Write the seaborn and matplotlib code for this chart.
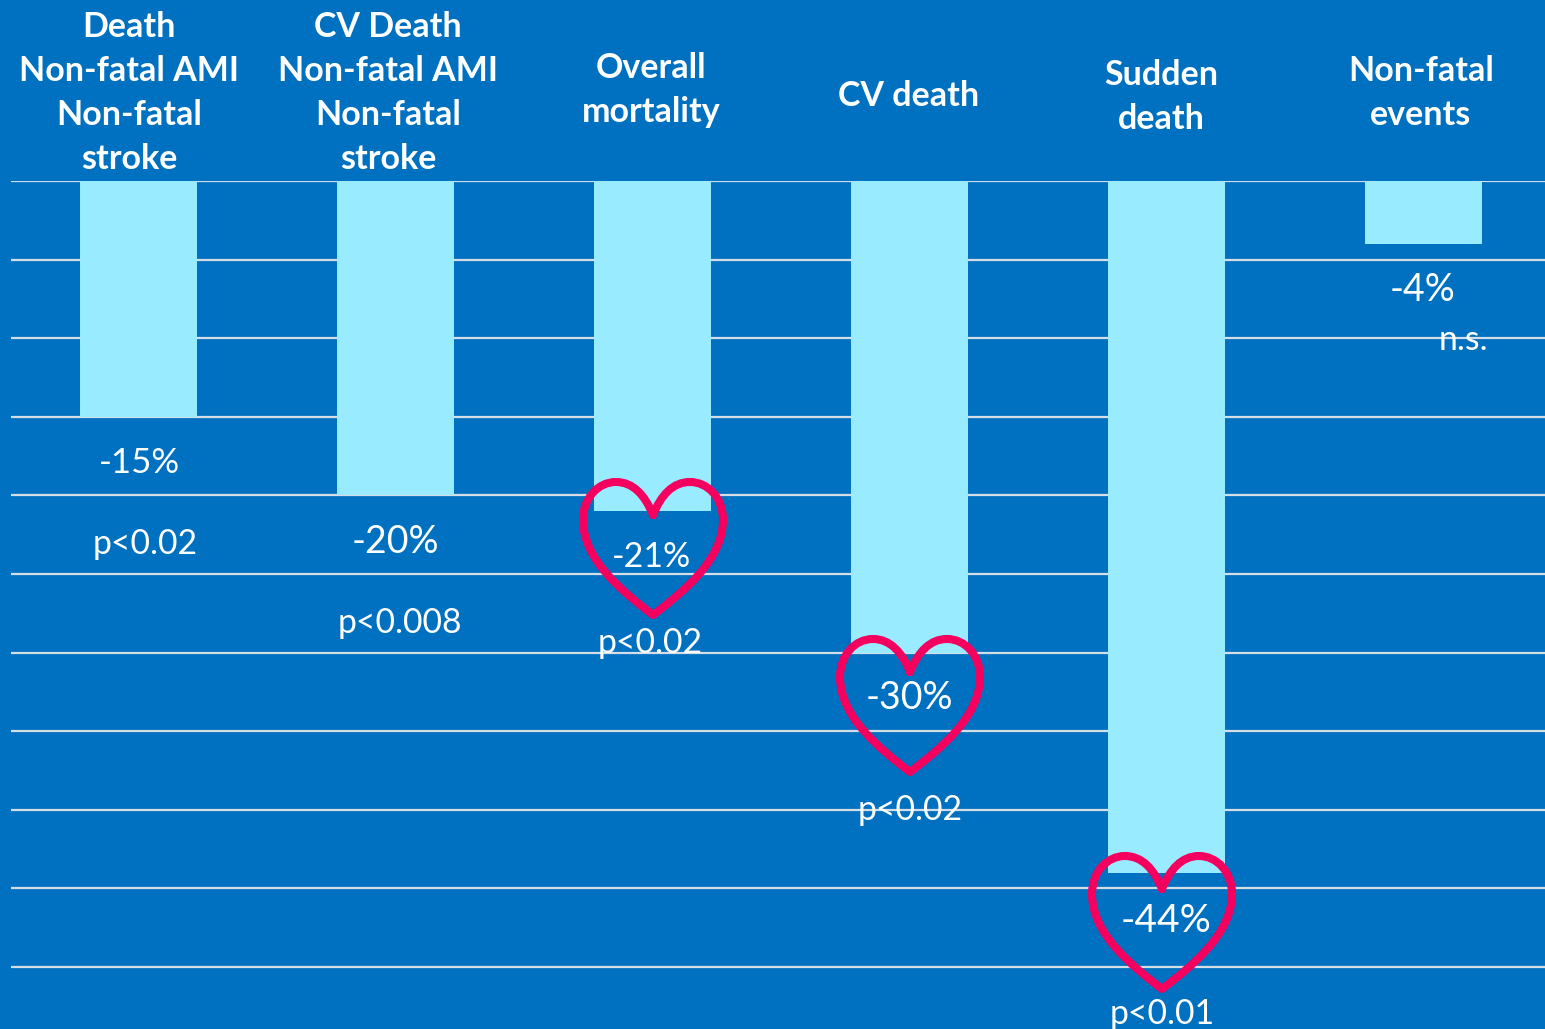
import matplotlib
matplotlib.use("Agg")
import matplotlib.pyplot as plt
import pandas as pd
import seaborn as sns
from matplotlib.patches import PathPatch
from matplotlib.path import Path
from matplotlib.transforms import Affine2D

W, H = 1545, 1029
BLUE = "#0070C0"
BAR = "#99EBFF"
PINK = "#F5005F"

categories = [
    "Death\nNon-fatal AMI\nNon-fatal\nstroke",
    "CV Death\nNon-fatal AMI\nNon-fatal\nstroke",
    "Overall\nmortality",
    "CV death",
    "Sudden\ndeath",
    "Non-fatal\nevents",
]
values = [-15, -20, -21, -30, -44, -4]
value_labels = ["-15%", "-20%", "-21%", "-30%", "-44%", "-4%"]
p_labels = ["p<0.02", "p<0.008", "p<0.02", "p<0.02", "p<0.01", "n.s."]
gridlines = list(range(0, -65, -5))

# label centres in image pixels
header_xy = [(129, 93), (388, 93), (651, 90), (909, 96), (1161, 97), (1421, 93)]
value_xy = [(139, 463), (395, 542), (652, 557), (909, 698), (1166, 921), (1423, 290)]
value_sizes = [25, 27, 24.5, 27, 28, 27]
p_xy = [(145, 544), (400, 623), (650, 643), (910, 810), (1162, 1014), (1463, 340)]
# heart: centre x, top of the outline
hearts = [(653, 482), (910, 639), (1162, 856)]

sns.set_theme(style="white")
plt.rcParams["font.family"] = ["Lato", "DejaVu Sans"]

fig = plt.figure(figsize=(W / 100, H / 100), dpi=100, facecolor=BLUE)
ax = fig.add_axes([11 / W, 0, (W - 11) / W, 848 / H], facecolor=BLUE)

df = pd.DataFrame({"category": categories, "value": values})
sns.barplot(data=df, x="category", y="value", color=BAR, saturation=1, width=117 / 257,
            linewidth=0, ax=ax, zorder=3)

ax.set_xlim(-127.5 / 257, (W - 138.5) / 257)
ax.set_ylim(-848 / 15.72, 0)
ax.set_yticks(gridlines)
ax.set_axisbelow(True)
ax.grid(axis="y", color="#D5DEE6", lw=1.6)
ax.grid(axis="x", visible=False)
ax.set_xlabel("")
ax.set_ylabel("")
ax.tick_params(left=False, bottom=False, labelleft=False, labelbottom=False)
sns.despine(ax=ax, left=True, bottom=True, top=True, right=True)
ax.set_ylim(-848 / 15.72, 0)


def fx(x):
    return x / W


def fy(y):
    return 1 - y / H


for name, (x, y) in zip(categories, header_xy):
    fig.text(fx(x), fy(y), name, color="white", fontsize=24.5, fontweight="bold",
             ha="center", va="center", linespacing=1.45)

for lab, (x, y), size in zip(value_labels, value_xy, value_sizes):
    fig.text(fx(x), fy(y), lab, color="white", fontsize=size, ha="center", va="center", zorder=6)

for lab, (x, y) in zip(p_labels, p_xy):
    fig.text(fx(x), fy(y), lab, color="white", fontsize=24.3, ha="center", va="center", zorder=6)

# heart outline, offsets in pixels from centre x / top of outline
verts = [
    (0, 33),
    (-8, 13), (-20, 0), (-37, 0),
    (-55, 0), (-70, 16), (-70, 38),
    (-70, 78), (-30, 110), (0, 133),
    (30, 110), (70, 78), (70, 38),
    (70, 16), (55, 0), (37, 0),
    (20, 0), (8, 13), (0, 33),
]
codes = [Path.MOVETO] + [Path.CURVE4] * 18
for cx, top in hearts:
    tr = Affine2D().translate(cx, top) + Affine2D().scale(1, -1).translate(0, H)
    fig.add_artist(PathPatch(Path(verts, codes), transform=tr, fill=False, edgecolor=PINK,
                             lw=5.8, capstyle="round", joinstyle="round", zorder=5))

fig.savefig("out.png", dpi=100, facecolor=BLUE)
